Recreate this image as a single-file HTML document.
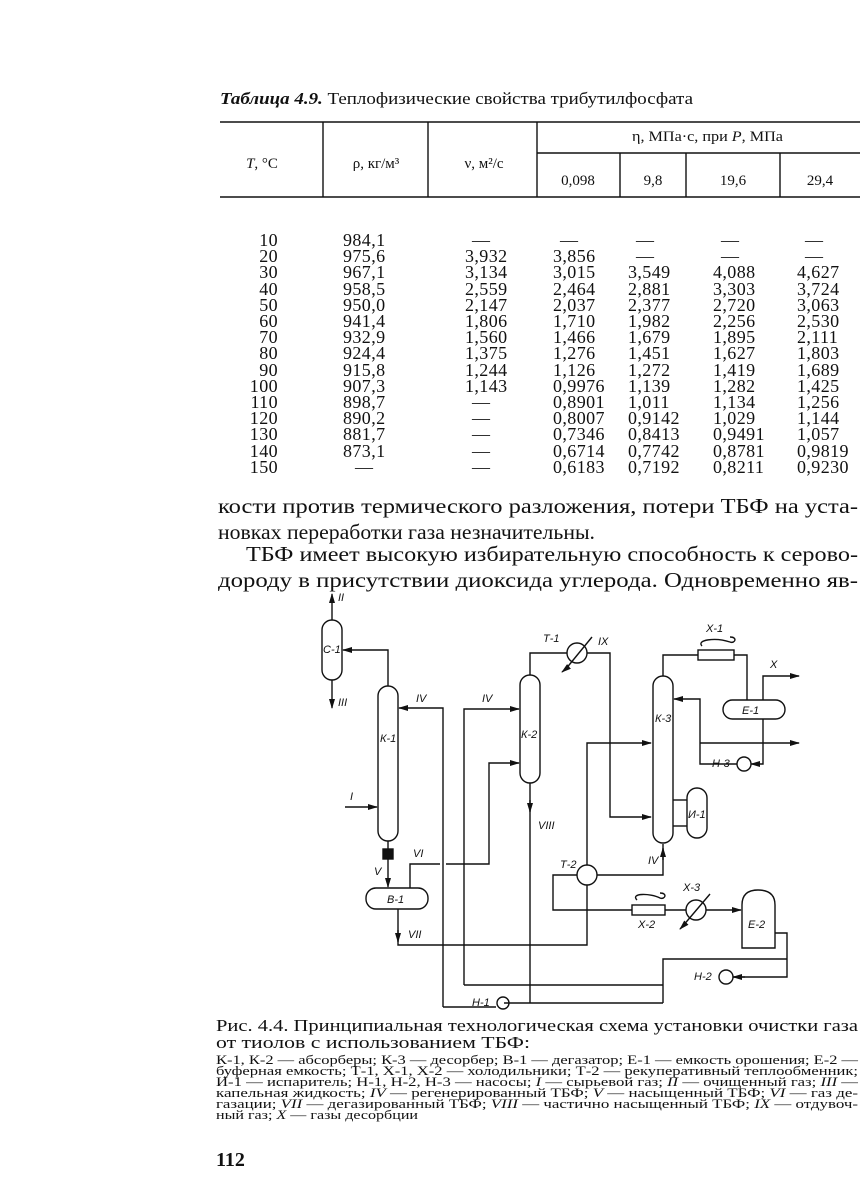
<!DOCTYPE html>
<html><head><meta charset="utf-8"><style>
html,body{margin:0;padding:0;background:#fff;}
svg{display:block}
.s{font-family:"Liberation Serif",serif;fill:#111}
.n{font-family:"Liberation Serif",serif;font-size:18px;letter-spacing:0.4px;fill:#111}
.d{font-family:"Liberation Sans",sans-serif;font-style:italic;font-size:11px;fill:#111}
line,path,rect,circle,polyline{stroke:#111;fill:none;stroke-width:1.4}
</style></head><body>
<svg width="860" height="1198" viewBox="0 0 860 1198" xmlns="http://www.w3.org/2000/svg">
<defs><marker id="a" markerWidth="10" markerHeight="6" refX="9" refY="3" orient="auto" markerUnits="userSpaceOnUse"><path d="M0,0 L10,3 L0,6 Z" style="fill:#111;stroke:none"/></marker></defs>
<text class="s" x="220" y="104" font-size="17" textLength="473" lengthAdjust="spacingAndGlyphs"><tspan font-style="italic" font-weight="bold">Таблица 4.9.</tspan> Теплофизические свойства трибутилфосфата</text>
<line x1="220" y1="122" x2="860" y2="122" stroke-width="1.6"/>
<line x1="323" y1="122" x2="323" y2="197"/>
<line x1="428" y1="122" x2="428" y2="197"/>
<line x1="537" y1="122" x2="537" y2="197"/>
<line x1="537" y1="153" x2="860" y2="153"/>
<line x1="620" y1="153" x2="620" y2="197"/>
<line x1="686" y1="153" x2="686" y2="197"/>
<line x1="780" y1="153" x2="780" y2="197"/>
<line x1="220" y1="197" x2="860" y2="197" stroke-width="2"/>
<text class="s" font-size="15" x="262" y="168" text-anchor="middle"><tspan font-style="italic">T</tspan>, °C</text>
<text class="s" font-size="15" x="376" y="168" text-anchor="middle">ρ, кг/м³</text>
<text class="s" font-size="15" x="484" y="168" text-anchor="middle">ν, м²/с</text>
<text class="s" font-size="15" x="632" y="141" textLength="151" lengthAdjust="spacingAndGlyphs">η, МПа·с, при <tspan font-style="italic">P</tspan>, МПа</text>
<text class="s" font-size="15" x="578" y="185" text-anchor="middle">0,098</text>
<text class="s" font-size="15" x="653" y="185" text-anchor="middle">9,8</text>
<text class="s" font-size="15" x="733" y="185" text-anchor="middle">19,6</text>
<text class="s" font-size="15" x="820" y="185" text-anchor="middle">29,4</text>
<g class="n">
<g text-anchor="end">
<text x="278" y="246">10</text><text x="278" y="262">20</text><text x="278" y="278">30</text><text x="278" y="295">40</text><text x="278" y="311">50</text><text x="278" y="327">60</text><text x="278" y="343">70</text><text x="278" y="359">80</text><text x="278" y="376">90</text><text x="278" y="392">100</text><text x="278" y="408">110</text><text x="278" y="424">120</text><text x="278" y="440">130</text><text x="278" y="457">140</text><text x="278" y="473">150</text>
</g>
<text x="343" y="246">984,1</text><text x="343" y="262">975,6</text><text x="343" y="278">967,1</text><text x="343" y="295">958,5</text><text x="343" y="311">950,0</text><text x="343" y="327">941,4</text><text x="343" y="343">932,9</text><text x="343" y="359">924,4</text><text x="343" y="376">915,8</text><text x="343" y="392">907,3</text><text x="343" y="408">898,7</text><text x="343" y="424">890,2</text><text x="343" y="440">881,7</text><text x="343" y="457">873,1</text><text x="355" y="473">—</text>
<text x="472" y="246">—</text><text x="465" y="262">3,932</text><text x="465" y="278">3,134</text><text x="465" y="295">2,559</text><text x="465" y="311">2,147</text><text x="465" y="327">1,806</text><text x="465" y="343">1,560</text><text x="465" y="359">1,375</text><text x="465" y="376">1,244</text><text x="465" y="392">1,143</text><text x="472" y="408">—</text><text x="472" y="424">—</text><text x="472" y="440">—</text><text x="472" y="457">—</text><text x="472" y="473">—</text>
<text x="560" y="246">—</text><text x="553" y="262">3,856</text><text x="553" y="278">3,015</text><text x="553" y="295">2,464</text><text x="553" y="311">2,037</text><text x="553" y="327">1,710</text><text x="553" y="343">1,466</text><text x="553" y="359">1,276</text><text x="553" y="376">1,126</text><text x="553" y="392">0,9976</text><text x="553" y="408">0,8901</text><text x="553" y="424">0,8007</text><text x="553" y="440">0,7346</text><text x="553" y="457">0,6714</text><text x="553" y="473">0,6183</text>
<text x="636" y="246">—</text><text x="636" y="262">—</text><text x="628" y="278">3,549</text><text x="628" y="295">2,881</text><text x="628" y="311">2,377</text><text x="628" y="327">1,982</text><text x="628" y="343">1,679</text><text x="628" y="359">1,451</text><text x="628" y="376">1,272</text><text x="628" y="392">1,139</text><text x="628" y="408">1,011</text><text x="628" y="424">0,9142</text><text x="628" y="440">0,8413</text><text x="628" y="457">0,7742</text><text x="628" y="473">0,7192</text>
<text x="721" y="246">—</text><text x="721" y="262">—</text><text x="713" y="278">4,088</text><text x="713" y="295">3,303</text><text x="713" y="311">2,720</text><text x="713" y="327">2,256</text><text x="713" y="343">1,895</text><text x="713" y="359">1,627</text><text x="713" y="376">1,419</text><text x="713" y="392">1,282</text><text x="713" y="408">1,134</text><text x="713" y="424">1,029</text><text x="713" y="440">0,9491</text><text x="713" y="457">0,8781</text><text x="713" y="473">0,8211</text>
<text x="805" y="246">—</text><text x="805" y="262">—</text><text x="797" y="278">4,627</text><text x="797" y="295">3,724</text><text x="797" y="311">3,063</text><text x="797" y="327">2,530</text><text x="797" y="343">2,111</text><text x="797" y="359">1,803</text><text x="797" y="376">1,689</text><text x="797" y="392">1,425</text><text x="797" y="408">1,256</text><text x="797" y="424">1,144</text><text x="797" y="440">1,057</text><text x="797" y="457">0,9819</text><text x="797" y="473">0,9230</text>
</g>
<g class="s" font-size="21">
<text x="218" y="513" textLength="640" lengthAdjust="spacingAndGlyphs">кости против термического разложения, потери ТБФ на уста-</text>
<text x="218" y="539" textLength="377" lengthAdjust="spacingAndGlyphs">новках переработки газа незначительны.</text>
<text x="246" y="561" textLength="612" lengthAdjust="spacingAndGlyphs">ТБФ имеет высокую избирательную способность к серово-</text>
<text x="218" y="587" textLength="640" lengthAdjust="spacingAndGlyphs">дороду в присутствии диоксида углерода. Одновременно яв-</text>
</g>
<rect x="322" y="620" width="20" height="60" rx="10"/>
<line x1="332" y1="620" x2="332" y2="594" marker-end="url(#a)"/>
<line x1="332" y1="680" x2="332" y2="708" marker-end="url(#a)"/>
<text class="d" x="338" y="601">II</text><text class="d" x="338" y="706">III</text>
<text class="d" x="323" y="653">C-1</text>
<rect x="378" y="686" width="20" height="155" rx="10"/>
<text class="d" x="380" y="742">К-1</text>
<polyline points="388,686 388,650 343,650" marker-end="url(#a)"/>
<line x1="345" y1="807" x2="377" y2="807" marker-end="url(#a)"/>
<text class="d" x="350" y="800">I</text>
<polyline points="443,1007 443,708 399,708" marker-end="url(#a)"/>
<text class="d" x="416" y="702">IV</text>
<line x1="443" y1="1007" x2="496" y2="1007" />
<rect x="383" y="849" width="10" height="10" style="fill:#111"/>
<line x1="388" y1="841" x2="388" y2="849"/>
<line x1="388" y1="859" x2="388" y2="887" marker-end="url(#a)"/>
<text class="d" x="374" y="875">V</text>
<rect x="366" y="888" width="62" height="21" rx="10"/>
<text class="d" x="387" y="903">В-1</text>
<polyline points="410,888 410,864 440,864"/>
<polyline points="446,864 489,864 489,763 519,763" marker-end="url(#a)"/>
<text class="d" x="413" y="857">VI</text>
<polyline points="398,909 398,945 587,945 587,885"/>
<line x1="398" y1="930" x2="398" y2="942" marker-end="url(#a)"/>
<text class="d" x="408" y="938">VII</text>
<rect x="520" y="675" width="20" height="108" rx="10"/>
<text class="d" x="521" y="738">К-2</text>
<polyline points="464,985 464,709 519,709" marker-end="url(#a)"/>
<text class="d" x="482" y="702">IV</text>
<line x1="464" y1="985" x2="663" y2="985"/>
<polyline points="663,1003 663,959 787,959"/>
<polyline points="530,675 530,653 567,653"/>
<circle cx="577" cy="653" r="10"/>
<line x1="565" y1="670" x2="592" y2="637"/>
<line x1="567" y1="668" x2="562" y2="672" marker-end="url(#a)"/>
<text class="d" x="543" y="642">Т-1</text>
<text class="d" x="598" y="645">IX</text>
<polyline points="587,653 610,653 610,817 651,817" marker-end="url(#a)"/>
<line x1="530" y1="783" x2="530" y2="1003"/>
<line x1="530" y1="800" x2="530" y2="812" marker-end="url(#a)"/>
<text class="d" x="538" y="829">VIII</text>
<line x1="504" y1="1003" x2="663" y2="1003"/>
<circle cx="503" cy="1003" r="6"/>
<text class="d" x="472" y="1006">Н-1</text>
<circle cx="587" cy="875" r="10"/>
<text class="d" x="560" y="868">Т-2</text>
<polyline points="587,865 587,743 651,743" marker-end="url(#a)"/>
<polyline points="597,875 663,875 663,844"/>
<line x1="663" y1="848" x2="663" y2="860" marker-end="url(#a)" transform="rotate(180 663 854)"/>
<text class="d" x="648" y="864">IV</text>
<polyline points="577,875 553,875 553,910 632,910"/>
<rect x="632" y="905" width="33" height="10"/>
<path d="M637,900 C630,893 650,893 660,898 C665,900 668,893 660,893"/>
<text class="d" x="638" y="928">Х-2</text>
<line x1="665" y1="910" x2="686" y2="910"/>
<circle cx="696" cy="910" r="10"/>
<line x1="682" y1="927" x2="710" y2="894"/>
<line x1="686" y1="923" x2="680" y2="929" marker-end="url(#a)"/>
<text class="d" x="683" y="891">Х-3</text>
<line x1="706" y1="910" x2="741" y2="910" marker-end="url(#a)"/>
<path d="M742,948 L742,905 Q742,890 758,890 Q775,890 775,905 L775,948 Z"/>
<text class="d" x="748" y="928">Е-2</text>
<polyline points="775,933 787,933 787,977 733,977"/>
<line x1="745" y1="977" x2="733" y2="977" marker-end="url(#a)"/>
<circle cx="726" cy="977" r="7"/>
<text class="d" x="694" y="980">Н-2</text>
<rect x="653" y="676" width="20" height="167" rx="10"/>
<text class="d" x="655" y="722">К-3</text>
<polyline points="663,676 663,655 698,655"/>
<rect x="698" y="650" width="36" height="10"/>
<path d="M702,646 C696,640 715,637 730,642 C735,644 738,637 730,637"/>
<text class="d" x="706" y="632">Х-1</text>
<polyline points="734,655 747,655 747,700"/>
<rect x="723" y="700" width="62" height="19" rx="9.5"/>
<text class="d" x="742" y="714">Е-1</text>
<polyline points="763,700 763,676 799,676" marker-end="url(#a)"/>
<text class="d" x="770" y="668">X</text>
<polyline points="763,719 763,764 751,764" marker-end="url(#a)"/>
<circle cx="744" cy="764" r="7"/>
<text class="d" x="712" y="767">Н-3</text>
<polyline points="737,764 700,764 700,699 674,699" marker-end="url(#a)"/>
<line x1="700" y1="743" x2="799" y2="743" marker-end="url(#a)"/>
<rect x="687" y="788" width="20" height="50" rx="10"/>
<text class="d" x="688" y="818">И-1</text>
<line x1="673" y1="800" x2="687" y2="800"/>
<line x1="673" y1="826" x2="687" y2="826"/>
<text class="s" font-size="17" x="216" y="1031" textLength="642" lengthAdjust="spacingAndGlyphs">Рис. 4.4. Принципиальная технологическая схема установки очистки газа</text>
<text class="s" font-size="17" x="216" y="1048" textLength="314" lengthAdjust="spacingAndGlyphs">от тиолов с использованием ТБФ:</text>
<g class="s" font-size="13">
<text x="216" y="1064" textLength="642" lengthAdjust="spacingAndGlyphs">К-1, К-2 — абсорберы; К-3 — десорбер; В-1 — дегазатор; Е-1 — емкость орошения; Е-2 —</text>
<text x="216" y="1075" textLength="642" lengthAdjust="spacingAndGlyphs">буферная емкость; Т-1, Х-1, Х-2 — холодильники; Т-2 — рекуперативный теплообменник;</text>
<text x="216" y="1086" textLength="642" lengthAdjust="spacingAndGlyphs">И-1 — испаритель; Н-1, Н-2, Н-3 — насосы; <tspan font-style="italic">I</tspan> — сырьевой газ; <tspan font-style="italic">II</tspan> — очищенный газ; <tspan font-style="italic">III</tspan> —</text>
<text x="216" y="1097" textLength="642" lengthAdjust="spacingAndGlyphs">капельная жидкость; <tspan font-style="italic">IV</tspan> — регенерированный ТБФ; <tspan font-style="italic">V</tspan> — насыщенный ТБФ; <tspan font-style="italic">VI</tspan> — газ де-</text>
<text x="216" y="1108" textLength="642" lengthAdjust="spacingAndGlyphs">газации; <tspan font-style="italic">VII</tspan> — дегазированный ТБФ; <tspan font-style="italic">VIII</tspan> — частично насыщенный ТБФ; <tspan font-style="italic">IX</tspan> — отдувоч-</text>
<text x="216" y="1119" textLength="202" lengthAdjust="spacingAndGlyphs">ный газ; <tspan font-style="italic">X</tspan> — газы десорбции</text>
</g>
<text class="s" font-size="20" font-weight="bold" x="216" y="1166">112</text>
</svg>
</body></html>
